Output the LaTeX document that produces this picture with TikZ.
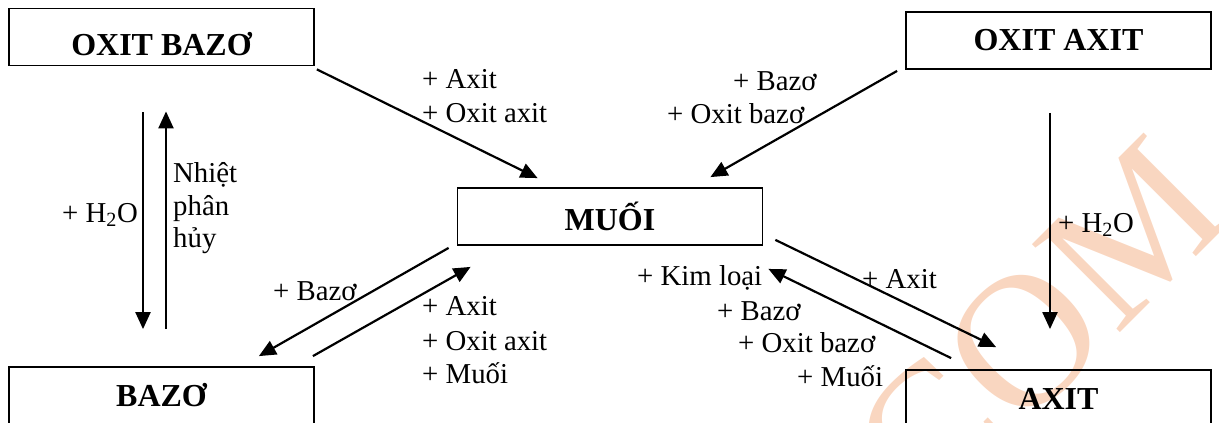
\documentclass[tikz,border=0pt]{standalone}
\usepackage{fontspec}
\setmainfont{Liberation Serif}
\usetikzlibrary{arrows.meta,calc}
\definecolor{wm}{RGB}{249,214,192}
\begin{document}
\begin{tikzpicture}[x=1pt,y=-1pt,
  box/.style={draw, line width=1.8pt, minimum width=305pt, minimum height=57pt, inner sep=0pt,
              font=\fontsize{32}{38}\selectfont\bfseries},
  lbl/.style={anchor=base west, inner sep=0pt, font=\fontsize{28.8}{34}\selectfont},
  arr/.style={line width=2.2pt, -{Triangle[length=17pt,width=15pt]}},
]
\clip (0,0) rectangle (1219,423);
% watermark
\node[rotate=45, anchor=base, text=wm, inner sep=0pt,
      font=\fontsize{190}{190}\selectfont] (wmk) at (1083,370) {COM};
% boxes
\node[box, text height=36pt, text depth=0pt] (ob) at (161.5,37) {OXIT BAZƠ};
\node[box] (oa) at (1058.5,40.5) {OXIT AXIT};
\node[box] (muoi) at (610,216.5) {MUỐI};
\node[box] (bazo) at (161.5,395.5) {BAZƠ};
\node[box] (axit) at (1058.5,398.5) {AXIT};
% labels
\node[lbl] (l1) at (422,88) {+ Axit};
\node[lbl] (l2) at (422,122) {+ Oxit axit};
\node[lbl] (l3) at (733,90) {+ Bazơ};
\node[lbl] (l4) at (667,123) {+ Oxit bazơ};
\node[lbl] (l5) at (62,222) {+ H\textsubscript{2}O};
\node[lbl] (l6) at (173,182) {Nhiệt};
\node[lbl] (l7) at (173,215) {phân};
\node[lbl] (l8) at (173,247) {hủy};
\node[lbl] (l9) at (273,300) {+ Bazơ};
\node[lbl] (l10) at (422,315) {+ Axit};
\node[lbl] (l11) at (422,350) {+ Oxit axit};
\node[lbl] (l12) at (422,383) {+ Muối};
\node[lbl] (l13) at (637,285) {+ Kim loại};
\node[lbl] (l14) at (717,320) {+ Bazơ};
\node[lbl] (l15) at (738,352) {+ Oxit bazơ};
\node[lbl] (l16) at (797,386) {+ Muối};
\node[lbl] (l17) at (862,288) {+ Axit};
\node[lbl] (l18) at (1058,232) {+ H\textsubscript{2}O};
% connectors
\draw[arr] ($(ob.south east)+(2,3)$) -- ($(muoi.north west)+(81,-9)$);
\draw[arr] ($(oa.south west)+(-8,1)$) -- ($(muoi.north east)+(-53,-10)$);
\draw[arr] ($(muoi.south west)+(-8,2)$) -- ($(bazo.north east)+(-56,-10)$);
\draw[arr] ($(bazo.north east)+(-2,-10)$) -- ($(muoi.south west)+(14,21)$);
\draw[arr] ($(muoi.south east)+(12,-6)$) -- ($(axit.north west)+(91,-22)$);
\draw[arr] ($(axit.north west)+(46,-11)$) -- ($(muoi.south east)+(5,23)$);
\draw[arr] ($(ob.south)+(-18.5,46)$) -- ($(bazo.north)+(-18.5,-37)$);
\draw[arr] ($(bazo.north)+(4.5,-37)$) -- ($(ob.south)+(4.5,45)$);
\draw[arr] ($(oa.south)+(-8.5,43)$) -- ($(axit.north)+(-8.5,-40)$);
\end{tikzpicture}
\end{document}
